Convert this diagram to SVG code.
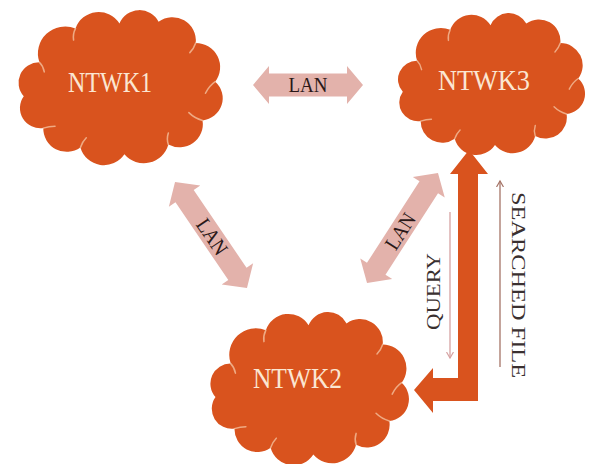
<svg xmlns="http://www.w3.org/2000/svg" xmlns:xlink="http://www.w3.org/1999/xlink" width="592" height="464" viewBox="0 0 592 464">
  <style>
    .cloud { fill: #d9531e; }
    .seam { fill: none; stroke: #f6c7a6; stroke-width: 1.6; stroke-linecap: round; opacity: 0.75; }
    .ntwk { font-family: "Liberation Serif", "DejaVu Serif", serif; font-size: 30px; fill: #fbe6d2; text-anchor: middle; }
    .lanbody { fill: #e3b2ab; }
    .lan { font-family: "Liberation Serif", "DejaVu Serif", serif; font-size: 21px; fill: #2a1818; text-anchor: middle; }
    .big { fill: #d9531e; }
    .lbl { font-family: "Liberation Serif", "DejaVu Serif", serif; font-size: 18px; fill: #3a3030; text-anchor: middle; }
  </style>
  <defs>
    <g id="cloud">
      <path class="cloud" d="M18,50 A28,28 0 0,1 55,15 A25,25 0 0,1 100,10 A22,22 0 0,1 140,8 A24,24 0 0,1 178,30 A25,25 0 0,1 198,70 A23,23 0 0,1 185,110 A24,24 0 0,1 150,135 A26,26 0 0,1 105,145 A25,25 0 0,1 60,138 A24,24 0 0,1 22,118 A21,21 0 0,1 2,85 A21,21 0 0,1 18,50 Z"/>
      <path class="seam" d="M18,50 q4,4 5,10"/>
      <path class="seam" d="M55,15 q-3,6 -2,12"/>
      <path class="seam" d="M178,30 q-2,6 -6,10"/>
      <path class="seam" d="M198,70 q-6,4 -10,12"/>
      <path class="seam" d="M185,110 q-8,-2 -14,-8"/>
      <path class="seam" d="M150,135 q-2,-6 0,-12"/>
      <path class="seam" d="M60,138 q2,-6 6,-10"/>
      <path class="seam" d="M22,118 q6,-2 12,-2"/>
    </g>
    <marker id="openhead" markerWidth="8" markerHeight="8" refX="6" refY="4" orient="auto" markerUnits="userSpaceOnUse">
      <path d="M0,0.5 L6,4 L0,7.5" fill="none" stroke="context-stroke" stroke-width="1.2"/>
    </marker>
  </defs>

  <g id="ntwk1">
    <use xlink:href="#cloud" href="#cloud" transform="translate(21.8,13.9) scale(0.977,0.968)"/>
    <text class="ntwk" x="110" y="92" textLength="84" lengthAdjust="spacingAndGlyphs">NTWK1</text>
  </g>

  <g id="ntwk3">
    <use xlink:href="#cloud" href="#cloud" transform="translate(401,16.5) scale(0.895,0.886)"/>
    <text class="ntwk" x="484" y="90" textLength="92" lengthAdjust="spacingAndGlyphs">NTWK3</text>
  </g>

  <g id="ntwk2">
    <use xlink:href="#cloud" href="#cloud" transform="translate(213.6,315.8) scale(0.95,0.956)"/>
    <text class="ntwk" x="297.5" y="388" textLength="89" lengthAdjust="spacingAndGlyphs">NTWK2</text>
  </g>

  <g id="connectors">
    <g id="lan-1-3" transform="translate(308,85)">
      <polygon class="lanbody" points="-55,0 -39,-19 -39,-11.5 39,-11.5 39,-19 55,0 39,19 39,11.5 -39,11.5 -39,19"/>
      <text class="lan" x="0" y="7" textLength="39" lengthAdjust="spacingAndGlyphs">LAN</text>
    </g>
    <g id="lan-1-2" transform="translate(211,235) rotate(55.8)">
      <polygon class="lanbody" points="-64,0 -47,-19 -47,-11 47,-11 47,-19 64,0 47,19 47,11 -47,11 -47,19"/>
      <text class="lan" x="2" y="7" textLength="39" lengthAdjust="spacingAndGlyphs">LAN</text>
    </g>
    <g id="lan-2-3" transform="translate(402.5,228) rotate(-57.2)">
      <polygon class="lanbody" points="-65.5,0 -48.5,-19 -48.5,-11 48.5,-11 48.5,-19 65.5,0 48.5,19 48.5,11 -48.5,11 -48.5,19"/>
      <text class="lan" x="-4" y="7" textLength="39" lengthAdjust="spacingAndGlyphs">LAN</text>
    </g>
    <polygon id="bigarrow" class="big" points="469,150 488,174 478,174 478,401 433,401 433,413 414,390 433,368 433,378 458,378 458,174 450,174"/>
    <line id="query-line" x1="450" y1="212" x2="450" y2="358" stroke="#d6a2a2" stroke-width="1.3" marker-end="url(#openhead)"/>
    <line id="file-line" x1="500" y1="367" x2="500" y2="181" stroke="#a57366" stroke-width="1.3" marker-end="url(#openhead)"/>
    <text class="lbl" transform="translate(440,291.5) rotate(-90)" textLength="77" lengthAdjust="spacingAndGlyphs">QUERY</text>
    <text class="lbl" transform="translate(512,285) rotate(90)" textLength="186" lengthAdjust="spacingAndGlyphs">SEARCHED FILE</text>
  </g>
</svg>
